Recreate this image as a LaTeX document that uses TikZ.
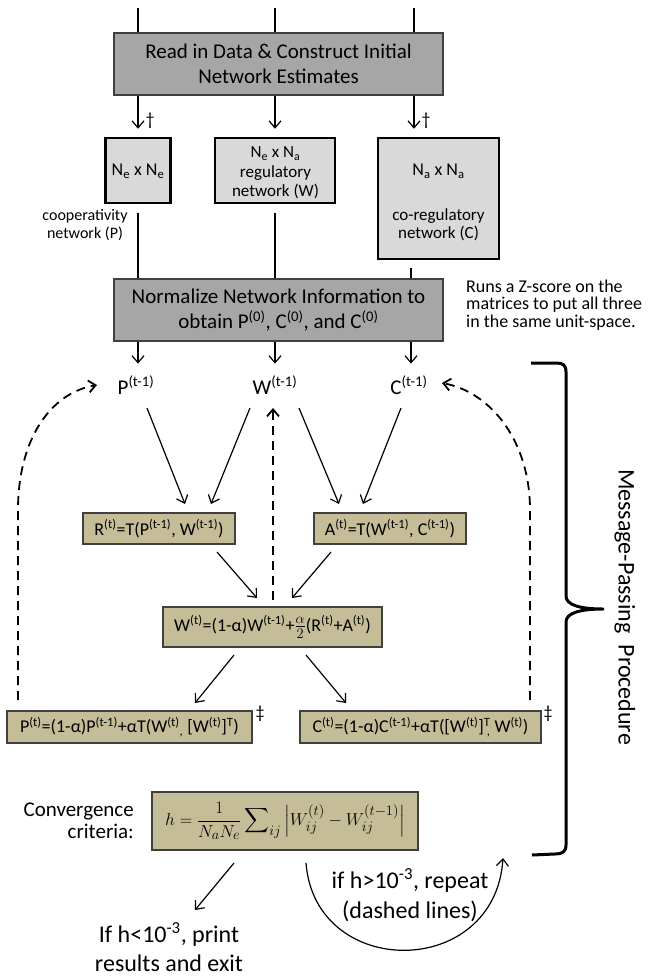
\documentclass[tikz,border=0pt]{standalone}
\usepackage{amsmath}
\usepackage{fontspec}
\setmainfont{Carlito}
\usetikzlibrary{arrows.meta}
\definecolor{boxgray}{HTML}{A6A6A6}
\definecolor{paleGray}{HTML}{D9D9D9}
\definecolor{tanFill}{HTML}{C4BD97}
\definecolor{edgeGray}{HTML}{404040}
\newcommand{\sps}[1]{\textsuperscript{#1}}
\newcommand{\sbs}[1]{\textsubscript{#1}}
\newcommand{\fs}[2]{\fontsize{#1}{#2}\selectfont}
\begin{document}
\begin{tikzpicture}[x=1pt,y=-1pt,
  graybox/.style={draw=edgeGray, fill=boxgray, line width=1.2pt, inner sep=0pt, align=center, font=\fs{21}{25.5}},
  lightbox/.style={draw=black, fill=paleGray, line width=2.5pt, inner sep=0pt},
  tanbox/.style={draw=edgeGray, fill=tanFill, line width=1.3pt, inner sep=0pt, font=\fs{18}{22}},
  lbl/.style={inner sep=0pt, align=center},
  arr/.style={line width=1.2pt, -{Straight Barb[length=7pt,width=12pt]}},
  dsh/.style={line width=1.8pt, dash pattern=on 9pt off 6pt, -{Straight Barb[length=7pt,width=12pt]}},
  plain/.style={line width=1.6pt},
]
\useasboundingbox (0,0) rectangle (649,978);

% ---------- top part ----------
\coordinate (in1) at (138,8);
\coordinate (in2) at (275,8);
\coordinate (in3) at (414,8);
\node[graybox, minimum width=329pt, minimum height=62pt] (read) at (278.5,64)
  {Read in Data \& Construct Initial\\Network Estimates};
\draw[plain] (in1) -- (in1 |- read.north);
\draw[plain] (in2) -- (in2 |- read.north);
\draw[plain] (in3) -- (in3 |- read.north);

\node[lightbox, minimum width=65pt, minimum height=65pt] (pbox) at (138,170.5) {};
\node[lightbox, minimum width=120pt, minimum height=65pt] (wbox) at (275,170.5) {};
\node[lightbox, minimum width=121pt, minimum height=121pt] (cbox) at (438.5,198.5) {};

\draw[arr, shorten >=8pt] (read.south -| in1) -- (in1 |- pbox.north);
\draw[arr, shorten >=8pt] (read.south -| in2) -- (in2 |- wbox.north);
\draw[arr, shorten >=8pt] (read.south -| in3) -- (in3 |- cbox.north);
\node[lbl, font=\fs{18}{20}] (dag1) at (150,121) {\textdagger};
\node[lbl, font=\fs{18}{20}] (dag2) at (426,121) {\textdagger};

\node[lbl, font=\fs{18}{20}] (ptxt) at (138,171) {N\sbs{e} x N\sbs{e}};
\node[lbl, font=\fs{17}{19.5}] (wtxt) at (275.5,173) {N\sbs{e} x N\sbs{a}\\regulatory\\network (W)};
\node[lbl, font=\fs{18}{20}] (ctxt1) at (438.5,171) {N\sbs{a} x N\sbs{a}};
\node[lbl, font=\fs{17}{17.5}] (ctxt2) at (438.5,225) {co-regulatory\\network (C)};
\node[lbl, font=\fs{16}{18}] (coop) at (85,225) {cooperativity\\network (P)};

\node[graybox, minimum width=329pt, minimum height=62pt] (norm) at (278.5,310)
  {Normalize Network Information to\\obtain P\sps{(0)}, C\sps{(0)}, and C\sps{(0)}};
\coordinate (c2) at (411,268);
\draw[plain] ([yshift=-9pt]pbox.south) -- (pbox.south |- norm.north);
\draw[plain] ([yshift=-9pt]wbox.south) -- (wbox.south |- norm.north);
\draw[plain] (c2) -- (c2 |- norm.north);

\node[lbl, align=left, anchor=west, font=\fs{18}{17.5}] (zs) at (466,305)
  {Runs a Z-score on the\\matrices to put all three\\in the same unit-space.};

% ---------- labels t-1 ----------
\node[lbl, font=\fs{21}{24}] (Pm) at (136,385) {P\sps{(t-1)}};
\node[lbl, font=\fs{21}{24}] (Wm) at (275,385) {W\sps{(t-1)}};
\node[lbl, font=\fs{21}{24}] (Cm) at (409,385) {C\sps{(t-1)}};
\draw[arr] (norm.south -| in1) -- ++(0,22);
\draw[arr] (norm.south -| in2) -- ++(0,22);
\draw[arr] (norm.south -| c2) -- ++(0,22);

% ---------- message passing boxes ----------
\node[tanbox, minimum width=152pt, minimum height=31pt] (rbox) at (159,528.5)
  {R\sps{(t)}=T(P\sps{(t-1)}, W\sps{(t-1)})};
\node[tanbox, minimum width=152pt, minimum height=31pt] (abox) at (390,528.5)
  {A\sps{(t)}=T(W\sps{(t-1)}, C\sps{(t-1)})};
\node[tanbox, minimum width=219pt, minimum height=40pt] (wt) at (272.5,627)
  {W\sps{(t)}=(1-α)W\sps{(t-1)}+{\fs{22}{22}$\frac{\alpha}{2}$}(R\sps{(t)}+A\sps{(t)})};
\node[tanbox, minimum width=245pt, minimum height=32pt] (pt) at (129.5,727)
  {P\sps{(t)}=(1-α)P\sps{(t-1)}+αT(W\sps{(t)}\sbs{,} [W\sps{(t)}]\sps{T})};
\node[tanbox, minimum width=241pt, minimum height=32pt] (ct) at (420.5,727)
  {C\sps{(t)}=(1-α)C\sps{(t-1)}+αT([W\sps{(t)}]\sps{T}\llap{\sbs{,}} W\sps{(t)})};
\node[lbl, font=\fs{18}{20}] (dd1) at (260,714) {\textdaggerdbl};
\node[lbl, font=\fs{18}{20}] (dd2) at (548,714) {\textdaggerdbl};

\draw[arr] ([shift={(11,23)}]Pm.center) -- ([shift={(26,-24.5)}]rbox.center);
\draw[arr] ([shift={(-25,23)}]Wm.center) -- ([shift={(52,-24.5)}]rbox.center);
\draw[arr] ([shift={(24,23)}]Wm.center) -- ([shift={(-51,-24.5)}]abox.center);
\draw[arr] ([shift={(-8,23)}]Cm.center) -- ([shift={(-27,-24.5)}]abox.center);
\draw[arr] ([shift={(58,23.5)}]rbox.center) -- ([shift={(-15.5,-29)}]wt.center);
\draw[arr] ([shift={(-59,23.5)}]abox.center) -- ([shift={(19.5,-29)}]wt.center);
\draw[arr] ([shift={(-38.5,28)}]wt.center) -- ([shift={(65.5,-24)}]pt.center);
\draw[arr] ([shift={(33.5,28)}]wt.center) -- ([shift={(-74.5,-24)}]ct.center);

% dashed feedback
\coordinate (dl) at (18,510);
\coordinate (dr) at (530,510);
\draw[dsh] ([shift={(-111.5,-27)}]pt.center) -- (dl) .. controls (18,440) and (50,393) .. ([shift={(-39,0)}]Pm.center);
\draw[dsh] ([shift={(109.5,-27)}]ct.center) -- (dr) .. controls (530,440) and (490,392) .. ([shift={(33,-2)}]Cm.center);
\draw[dsh] ([shift={(0.5,-27)}]wt.center) -- ([shift={(-2,23)}]Wm.center);

% brace
\draw[line width=3pt, line join=round, line cap=butt]
  (531,363) -- (556,363) .. controls (563,363) and (566,365) .. (566,372)
  -- (566,596) .. controls (566,605) and (580,609) .. (603,609)
  .. controls (580,609) and (566,613) .. (566,622)
  -- (566,845) .. controls (566,852) and (562,854) .. (555,854) -- (532,855);
\node[lbl, rotate=-90, font=\fs{24}{28}] (mpp) at (625,607) {Message-Passing\ \ Procedure};

% ---------- convergence ----------
\node[tanbox, minimum width=266pt, minimum height=58pt, font=\fs{19}{24}] (conv) at (285,821)
  {$\displaystyle h=\frac{1}{N_aN_e}\sum\nolimits_{ij}\left|W_{ij}^{(t)}-W_{ij}^{(t-1)}\right|$};
\node[lbl, align=right, anchor=east, font=\fs{21}{22}] (cc) at (134,821) {Convergence\\criteria:};
\node[lbl, font=\fs{24}{29}] (exit) at (169,947) {If h<10\sps{-3}, print\\results and exit};
\draw[arr] ([shift={(-51,42)}]conv.center) -- ([shift={(26,-37)}]exit.center);
\coordinate (rep) at (503,858);
\draw[arr] ([shift={(21,42)}]conv.center) .. controls (315,980) and (495,980) .. (rep);
\node[lbl, font=\fs{24}{30}] (reptxt) at (410,895) {if h>10\sps{-3}, repeat\\(dashed lines)};
\end{tikzpicture}
\end{document}
